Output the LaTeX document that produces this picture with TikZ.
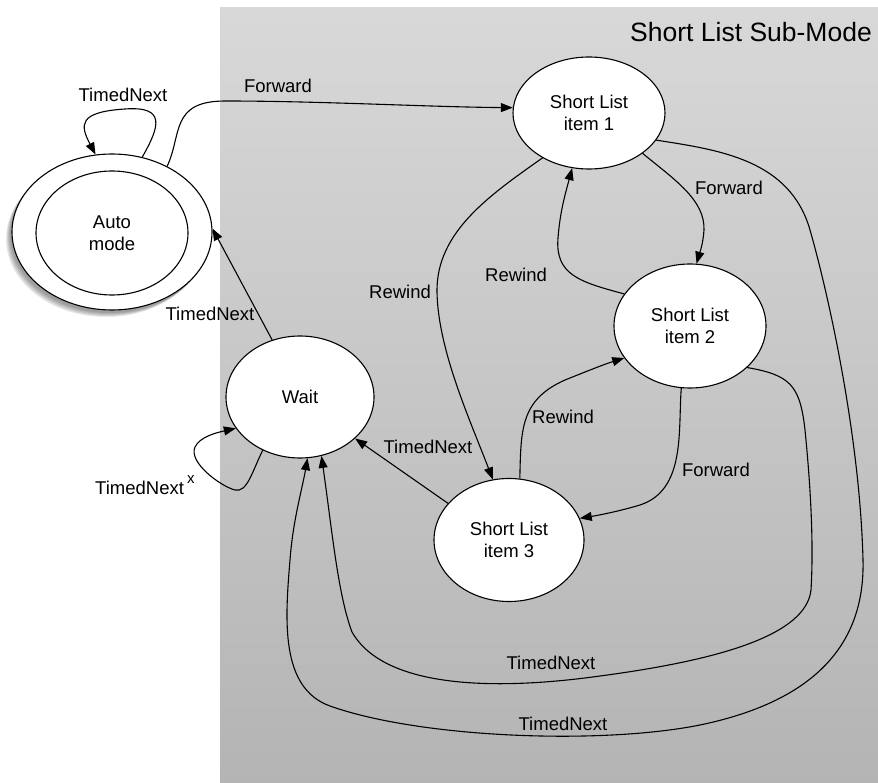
\documentclass[tikz,border=0pt]{standalone}
\usepackage{fontspec}
\setmainfont{Liberation Sans}
\usetikzlibrary{arrows.meta,shapes.geometric}
\definecolor{bgtop}{HTML}{D8D8D8}
\definecolor{bgbot}{HTML}{B4B4B4}
\tikzset{
  state/.style={ellipse, draw=black, line width=1.1pt, fill=white, inner sep=0pt, align=center, font=\fontsize{18.5}{22}\selectfont},
  shadowell/.style={ellipse, fill=black, opacity=0.09, inner sep=0pt, minimum width=200pt, minimum height=156pt},
  lbl/.style={inner sep=0pt, font=\fontsize{18.5}{22}\selectfont},
  conn/.style={line width=1.1pt, -{Triangle[length=12pt,width=9pt]}},
}
\begin{document}
\begin{tikzpicture}[x=1pt,y=1pt]
\useasboundingbox (0,0) rectangle (878,-783);
\shade[top color=bgtop, bottom color=bgbot] (220,-8) rectangle (878,-783);
\node[lbl, font=\fontsize{26.5}{30}\selectfont] (title) at (751,-32) {Short List Sub-Mode};

% soft shadow of the auto state
\node[shadowell] (sh1) at (110,-235) {};
\node[shadowell] (sh2) at (109,-236) {};
\node[shadowell] (sh3) at (108,-237) {};
\node[shadowell] (sh4) at (107,-238) {};
\node[shadowell] (sh5) at (106,-239) {};

% states
\node[state, minimum width=200pt, minimum height=156pt] (auto) at (112,-232) {};
\node[state, minimum width=152pt, minimum height=124pt] (autoin) at (112,-233) {Auto\\mode};
\node[state, minimum width=148pt, minimum height=122pt] (wait) at (300,-397) {Wait};
\node[state, minimum width=152pt, minimum height=112pt] (item1) at (589,-113) {Short List\\item 1};
\node[state, minimum width=152pt, minimum height=124pt] (item2) at (690,-326) {Short List\\item 2};
\node[state, minimum width=150pt, minimum height=123pt] (item3) at (509,-540) {Short List\\item 3};

% connectors
\draw[conn] (auto.68) .. controls (160,-126) and (166,-106) .. (125,-109)
            .. controls (78,-112) and (80,-125) .. (auto.102.5);
\draw[conn] (auto.50) .. controls (182,-135) and (170,-101) .. (225,-101)
            .. controls (320,-101) and (430,-107) .. (item1.176);
\draw[conn] (wait.116) -- (auto.2);
\draw[conn] (wait.235) .. controls (252,-472) and (247,-493) .. (235,-490)
            .. controls (220,-486) and (188,-462) .. (195,-447)
            .. controls (200,-437) and (215,-433) .. (wait.206.6);
\draw[conn] (item1.224) .. controls (490,-195) and (436,-232) .. (437,-292)
            .. controls (438,-350) and (470,-420) .. (item3.105);
\draw[conn] (item1.323) .. controls (675,-180) and (705,-200) .. (704,-230)
            .. controls (703,-245) and (699,-255) .. (item2.84);
\draw[conn] (item2.154.5) .. controls (580,-282) and (555,-275) .. (558,-238)
            .. controls (560,-212) and (565,-195) .. (item1.253);
\draw[conn] (item3.80) .. controls (521,-430) and (520,-400) .. (565,-380)
            .. controls (590,-370) and (605,-364) .. (item2.206);
\draw[conn] (item2.262) .. controls (678,-430) and (686,-490) .. (640,-505)
            .. controls (620,-511) and (600,-515) .. (item3.17);
\draw[conn] (item3.149) -- (wait.323);
% inner TimedNext loop
\draw[conn] (item2.324) .. controls (790,-375) and (800,-385) .. (805,-430)
            .. controls (810,-480) and (814,-540) .. (811,-590)
            .. controls (806,-635) and (720,-660) .. (600,-676)
            .. controls (500,-690) and (385,-690) .. (352,-632)
            .. controls (338,-595) and (332,-530) .. (wait.290);
% outer TimedNext loop
\draw[conn] (item1.338) .. controls (720,-150) and (790,-160) .. (810,-230)
            .. controls (830,-300) and (860,-440) .. (863,-560)
            .. controls (865,-640) and (820,-700) .. (700,-725)
            .. controls (600,-745) and (420,-738) .. (330,-706)
            .. controls (280,-688) and (285,-620) .. (290,-560)
            .. controls (293,-520) and (302,-490) .. (wait.277.5);

% labels
\node[lbl] (l1) at (123,-95) {TimedNext};
\node[lbl] (l2) at (278,-86) {Forward};
\node[lbl] (l3) at (210,-314) {TimedNext};
\node[lbl, anchor=base west] (l4) at (95,-494) {TimedNext\,\raisebox{11pt}{\fontsize{15}{15}\selectfont x}};
\node[lbl] (l5) at (400,-292) {Rewind};
\node[lbl] (l6) at (729,-188) {Forward};
\node[lbl] (l7) at (516,-275) {Rewind};
\node[lbl] (l8) at (563,-417) {Rewind};
\node[lbl] (l9) at (716,-470) {Forward};
\node[lbl] (l10) at (428,-447) {TimedNext};
\node[lbl] (l11) at (551,-663) {TimedNext};
\node[lbl] (l12) at (563,-724) {TimedNext};
\end{tikzpicture}
\end{document}
